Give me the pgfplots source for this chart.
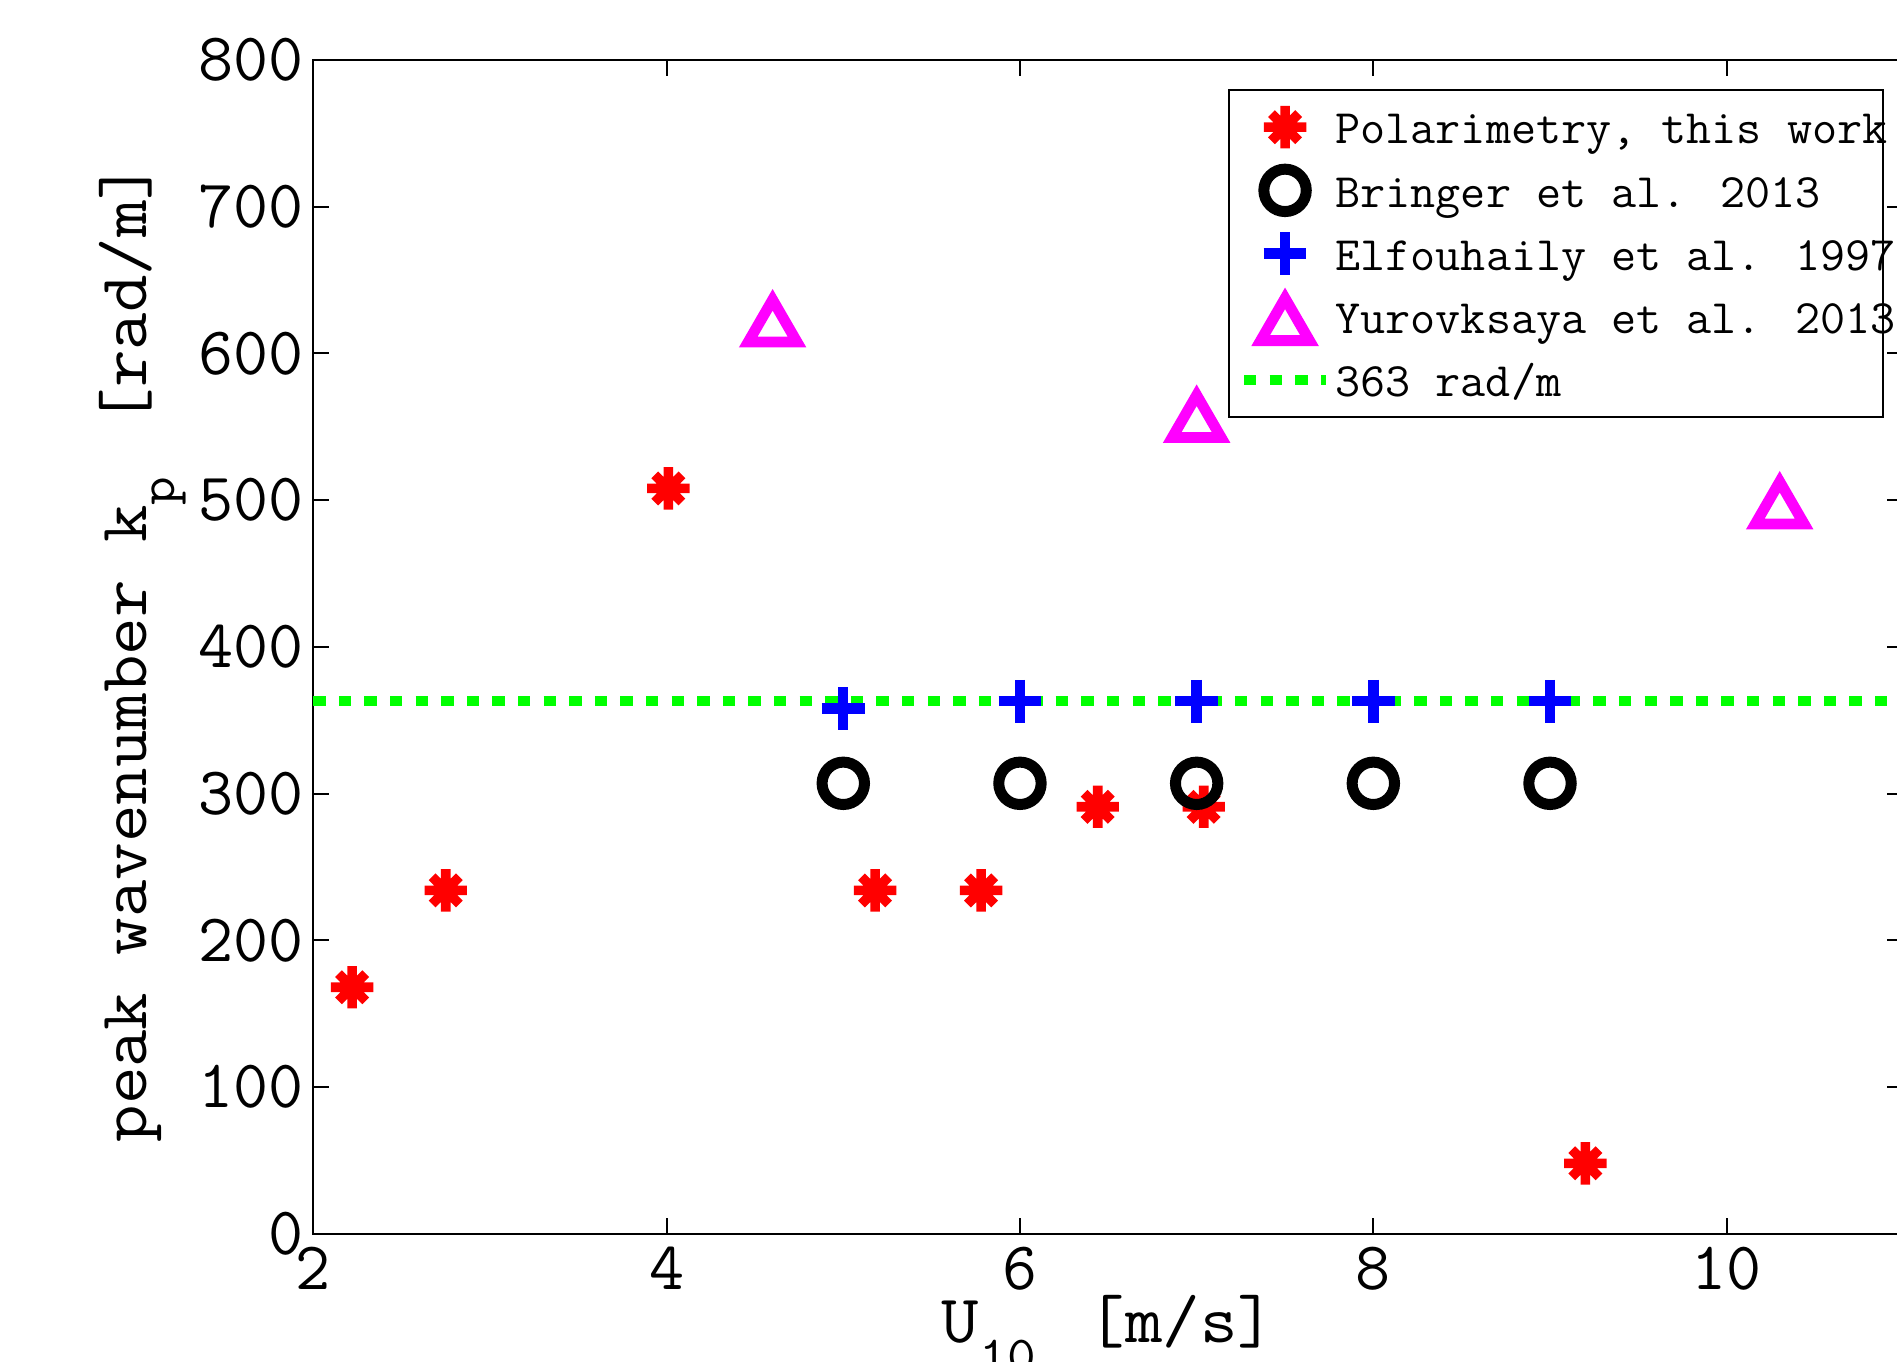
\documentclass[border=0pt]{standalone}
\usepackage{graphicx}
\usepackage{pgfplots}
\pgfplotsset{compat=1.18}
\definecolor{mred}{rgb}{1,0,0}
\definecolor{mblue}{rgb}{0,0,1}
\definecolor{mmag}{rgb}{1,0,1}
\definecolor{mgreen}{rgb}{0,1,0}

% matlab-like marks
\pgfdeclareplotmark{mstar}{%
  \pgfpathmoveto{\pgfqpoint{0pt}{5.3pt}}\pgfpathlineto{\pgfqpoint{0pt}{-5.3pt}}%
  \pgfpathmoveto{\pgfqpoint{5.3pt}{0pt}}\pgfpathlineto{\pgfqpoint{-5.3pt}{0pt}}%
  \pgfpathmoveto{\pgfqpoint{3.4pt}{3.4pt}}\pgfpathlineto{\pgfqpoint{-3.4pt}{-3.4pt}}%
  \pgfpathmoveto{\pgfqpoint{-3.4pt}{3.4pt}}\pgfpathlineto{\pgfqpoint{3.4pt}{-3.4pt}}%
  \pgfusepathqstroke}
\pgfdeclareplotmark{mcirc}{%
  \pgfpathcircle{\pgfpointorigin}{5.3pt}\pgfusepathqstroke}
\pgfdeclareplotmark{mtri}{%
  \pgfsetmiterjoin
  \pgfpathmoveto{\pgfqpoint{0pt}{4.6pt}}%
  \pgfpathlineto{\pgfqpoint{-6.1pt}{-5.96pt}}%
  \pgfpathlineto{\pgfqpoint{6.1pt}{-5.96pt}}%
  \pgfpathclose\pgfusepathqstroke}

\newcommand{\legtext}[1]{\makebox[134.4pt][l]{\scalebox{1.015}[1]{#1}}}
\newcommand{\wide}[1]{\scalebox{1.07}[1]{#1}}

\begin{document}
\begin{tikzpicture}
\begin{axis}[
  at={(0pt,0pt)}, anchor=south west,
  scale only axis, width=397.5pt, height=293.4pt,
  xmin=2, xmax=11, ymin=0, ymax=800,
  xtick={2,4,6,8,10},
  ytick={0,100,200,300,400,500,600,700,800},
  tick align=inside, major tick length=4pt,
  axis line style={line width=0.5pt},
  every tick/.style={black, line width=0.5pt},
  /pgf/number format/assume math mode=true,
  ticklabel style={font=\fontsize{17}{17}\selectfont\ttfamily, inner sep=0pt},
  xticklabel style={yshift=-3.1pt},
  yticklabel style={xshift=-2.3pt},
  label style={font=\fontsize{17}{17}\selectfont\ttfamily},
  xlabel={\wide{U\raisebox{-7.5pt}{\fontsize{13}{13}\selectfont 10}\hspace{12pt}[m/s]}},
  ylabel={\wide{peak wavenumber k\raisebox{-7pt}{\fontsize{13}{13}\selectfont p}\hspace{12pt}[rad/m]}},
  xlabel style={at={(axis description cs:0.5,-0.0924)}, anchor=base},
  ylabel style={at={(axis description cs:-0.105,0.495)}, anchor=base},
  legend cell align=left,
  legend style={at={(rel axis cs:0.5753,0.975)}, anchor=north west,
    draw=black, line width=0.5pt, fill=white,
    inner xsep=2.5pt, inner ysep=2.2pt,
    font=\fontsize{12}{12}\selectfont\ttfamily,
    nodes={inner sep=0pt, text height=11.2pt, text depth=2.8pt},
    row sep=1.8pt, /tikz/column sep=1.1pt},
  legend image code/.code={\draw[mark repeat=2,mark phase=2,#1] plot coordinates {(0pt,0pt) (10.25pt,0pt) (20.5pt,0pt)};},
]
\addplot[only marks, mred, mark=mstar, mark options={line width=2.4pt}] coordinates {
  (2.22,168) (2.75,234) (4.01,508) (5.18,234) (5.78,234) (6.44,291) (7.04,291) (9.20,48)};
\addlegendentry{\legtext{Polarimetry, this work}}
\addplot[only marks, black, mark=mcirc, mark options={line width=2.75pt}] coordinates {
  (5,307) (6,307) (7,307) (8,307) (9,307)};
\addlegendentry{\legtext{Bringer et al. 2013}}
\addplot[only marks, mblue, mark=+, mark size=5.35pt, mark options={line width=2.6pt}] coordinates {
  (5,358) (6,363) (7,363) (8,363) (9,363)};
\addlegendentry{\legtext{Elfouhaily et al. 1997}}
\addplot[only marks, mmag, mark=mtri, mark options={line width=2.7pt}] coordinates {
  (4.6,624) (7.0,559) (10.3,500)};
\addlegendentry{\legtext{Yurovksaya et al. 2013}}
\addplot[mgreen, line width=2.5pt, dash pattern=on 3.1pt off 3.3pt] coordinates {
  (2,363) (11,363)};
\addlegendentry{\legtext{363 rad/m}}
\end{axis}
\pgfresetboundingbox
\path[use as bounding box] (-78.3pt,-31.9pt) rectangle (395.9pt,308.4pt);
\end{tikzpicture}
\end{document}
